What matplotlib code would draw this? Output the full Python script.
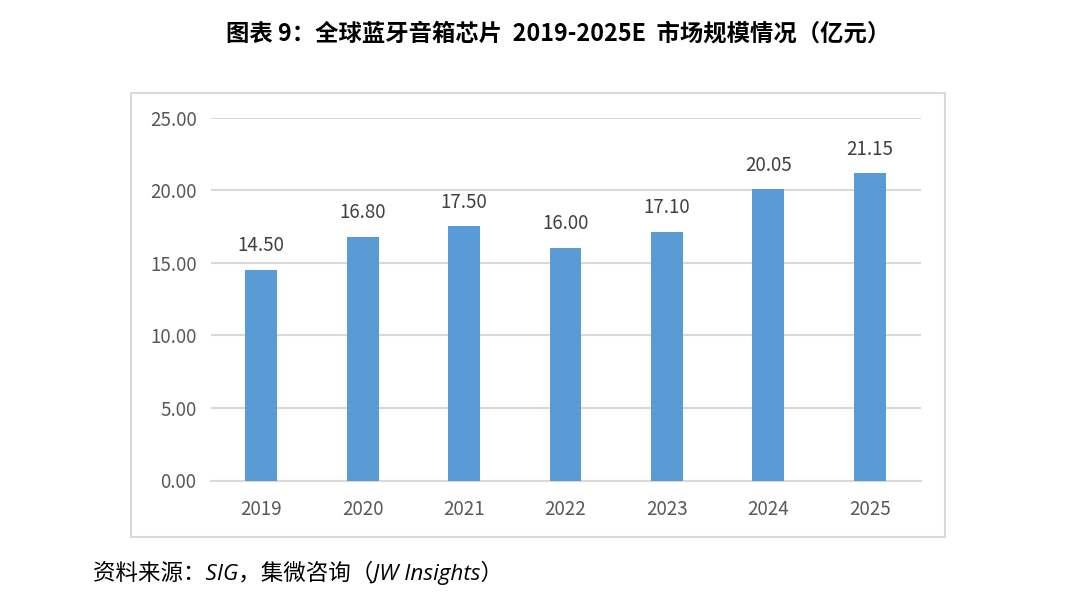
import matplotlib
matplotlib.use("Agg")
from matplotlib import pyplot as plt
from matplotlib.patches import Rectangle

plt.rcParams['font.family'] = ['Noto Sans CJK SC', 'DejaVu Sans']

annees = ["2019", "2020", "2021", "2022", "2023", "2024", "2025"]
valeurs = [14.50, 16.80, 17.50, 16.00, 17.10, 20.05, 21.15]
ticks_y = [0, 5, 10, 15, 20, 25]

titre = "图表 9：全球蓝牙音箱芯片  2019-2025E  市场规模情况（亿元）"
source = "资料来源：SIG，集微咨询（JW Insights）"

fig = plt.figure(figsize=(10.78, 6.02), dpi=100)

# cadre gris autour du graphique
cadre = Rectangle((131 / 1078, 1 - 537 / 602), (945 - 131) / 1078, (537 - 93) / 602,
                  transform=fig.transFigure, fill=False, edgecolor="#D9D9D9", linewidth=1.5)
fig.patches.append(cadre)

ax = fig.add_axes([210.5 / 1078, 1 - 480.5 / 602, (920.5 - 210.5) / 1078, (480.5 - 117.5) / 602])
x = range(len(annees))
ax.bar(x, valeurs, width=0.315, color="#5B9BD5", zorder=3)

for i, v in zip(x, valeurs):
    ax.annotate(f"{v:.2f}", (i, v), xytext=(0, 13.5), textcoords="offset points",
                ha="center", va="baseline", fontsize=13.5, color="#404040")

ax.set_xlim(-0.5, len(annees) - 0.5)
ax.set_ylim(0, 25)
ax.set_yticks(ticks_y)
ax.set_yticklabels([f"{t:.2f}" for t in ticks_y])
ax.set_xticks(list(x))
ax.set_xticklabels(annees)
ax.tick_params(axis="both", length=0, labelsize=13.5, labelcolor="#595959")
ax.tick_params(axis="y", pad=10)
ax.tick_params(axis="x", pad=13)
ax.grid(axis="y", color="#D9D9D9", linewidth=1.5, zorder=0)
for cote in ["top", "right", "left"]:
    ax.spines[cote].set_visible(False)
ax.spines["bottom"].set_color("#D9D9D9")
ax.spines["bottom"].set_linewidth(1.5)

fig.text(558 / 1078, 1 - 34 / 602, titre, ha="center", va="center",
         fontsize=16.8, fontweight="bold", color="black")
fig.text(93 / 1078, 1 - 573 / 602, source, ha="left", va="center",
         fontsize=16.2, style="italic", color="black",
         family=['Open Sans', 'Noto Sans CJK SC'])

plt.savefig("out.png")
plt.close()
